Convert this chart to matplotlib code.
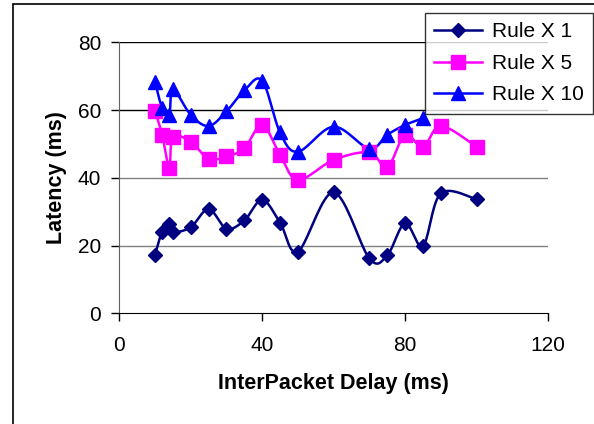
import numpy as np
import matplotlib
matplotlib.use("Agg")
import matplotlib.pyplot as plt
from matplotlib.patches import Rectangle

plt.rcParams['font.family'] = ['Liberation Sans', 'DejaVu Sans']

# delay settings (ms) and measured latency (ms)
delay = [10, 12, 14, 15, 20, 25, 30, 35, 40, 45, 50, 60, 70, 75, 80, 85, 90, 100]
rule1 = [17.2, 24.1, 26.4, 24.0, 25.4, 30.8, 25.0, 27.4, 33.5, 26.8, 18.2,
         35.7, 16.2, 17.1, 26.6, 19.9, 35.4, 33.7]
rule5 = [59.7, 52.7, 43.0, 52.0, 50.7, 45.6, 46.3, 48.7, 55.6, 46.8, 39.4,
         45.3, 47.5, 43.1, 52.7, 49.0, 55.3, 49.2]
delay10 = [10, 12, 14, 15, 20, 25, 30, 35, 40, 45, 50, 60, 70, 75, 80, 85]
rule10 = [68.4, 60.6, 58.6, 66.2, 58.6, 55.3, 59.6, 65.8, 68.7, 53.4, 47.7,
          55.1, 48.6, 52.7, 55.6, 57.6]

labels = ["Rule X 1", "Rule X 5", "Rule X 10"]
colors = ["#000080", "#FF00FF", "#0000FF"]
markers = ["D", "s", "^"]
msizes = [7.5, 9.5, 10]


def smooth(xs, ys, n=20):
    # Catmull-Rom curve through the points, like a spreadsheet "smoothed line"
    p = np.column_stack([xs, ys]).astype(float)
    p = np.vstack([p[0], p, p[-1]])
    out = []
    t = np.linspace(0, 1, n, endpoint=False)[:, None]
    for i in range(1, len(p) - 2):
        p0, p1, p2, p3 = p[i - 1], p[i], p[i + 1], p[i + 2]
        seg = 0.5 * ((2 * p1) + (-p0 + p2) * t
                     + (2 * p0 - 5 * p1 + 4 * p2 - p3) * t ** 2
                     + (-p0 + 3 * p1 - 3 * p2 + p3) * t ** 3)
        out.append(seg)
    out.append(p[-2][None, :])
    out = np.vstack(out)
    return out[:, 0], out[:, 1]


fig = plt.figure(figsize=(5.94, 4.24), dpi=100)
ax = fig.add_axes([0.2008, 0.2611, 0.7217, 0.639])

# outer chart frame
fig.patches.append(Rectangle((12.5 / 594, -0.1), 1.2, 1 - 4.5 / 424 + 0.1,
                             transform=fig.transFigure, fill=False,
                             edgecolor="black", linewidth=1.2))

for yv, c in [(20, "#808080"), (40, "#808080"), (60, "black"), (80, "black")]:
    ax.axhline(yv, color=c, linewidth=1, zorder=1)

series = [(delay, rule1), (delay, rule5), (delay10, rule10)]
for (xs, ys), lab, c, m, ms in zip(series, labels, colors, markers, msizes):
    sx, sy = smooth(xs, ys)
    ax.plot(sx, sy, color=c, linewidth=1.8, zorder=3)
    ax.plot(xs, ys, linestyle="none", marker=m, markersize=ms, color=c, zorder=4)
    ax.plot([], [], color=c, linewidth=1.8, marker=m, markersize=ms, label=lab)

ax.set_xlim(0, 120)
ax.set_ylim(0, 80)
ax.set_xticks([0, 40, 80, 120])
ax.set_yticks([0, 20, 40, 60, 80])
ax.tick_params(labelsize=15, length=6, width=1, direction="out")
ax.tick_params(axis="x", pad=10)
ax.tick_params(axis="y", pad=7)
ax.spines["top"].set_visible(False)
ax.spines["right"].set_visible(False)
ax.spines["left"].set_color("#606060")
ax.spines["bottom"].set_color("black")
ax.set_xlabel("InterPacket Delay (ms)", fontsize=15.5, fontweight="bold", labelpad=13)
ax.set_ylabel("Latency (ms)", fontsize=15.5, fontweight="bold", labelpad=8)

leg = fig.legend(loc="upper right", bbox_to_anchor=(593 / 594, 1 - 13 / 424),
                 fontsize=15, frameon=True, fancybox=False, borderaxespad=0,
                 handlelength=2.3, handletextpad=0.45, labelspacing=0.6,
                 borderpad=0.45)
leg.get_frame().set_edgecolor("black")
leg.get_frame().set_linewidth(1)

fig.savefig("out.png", dpi=100)
